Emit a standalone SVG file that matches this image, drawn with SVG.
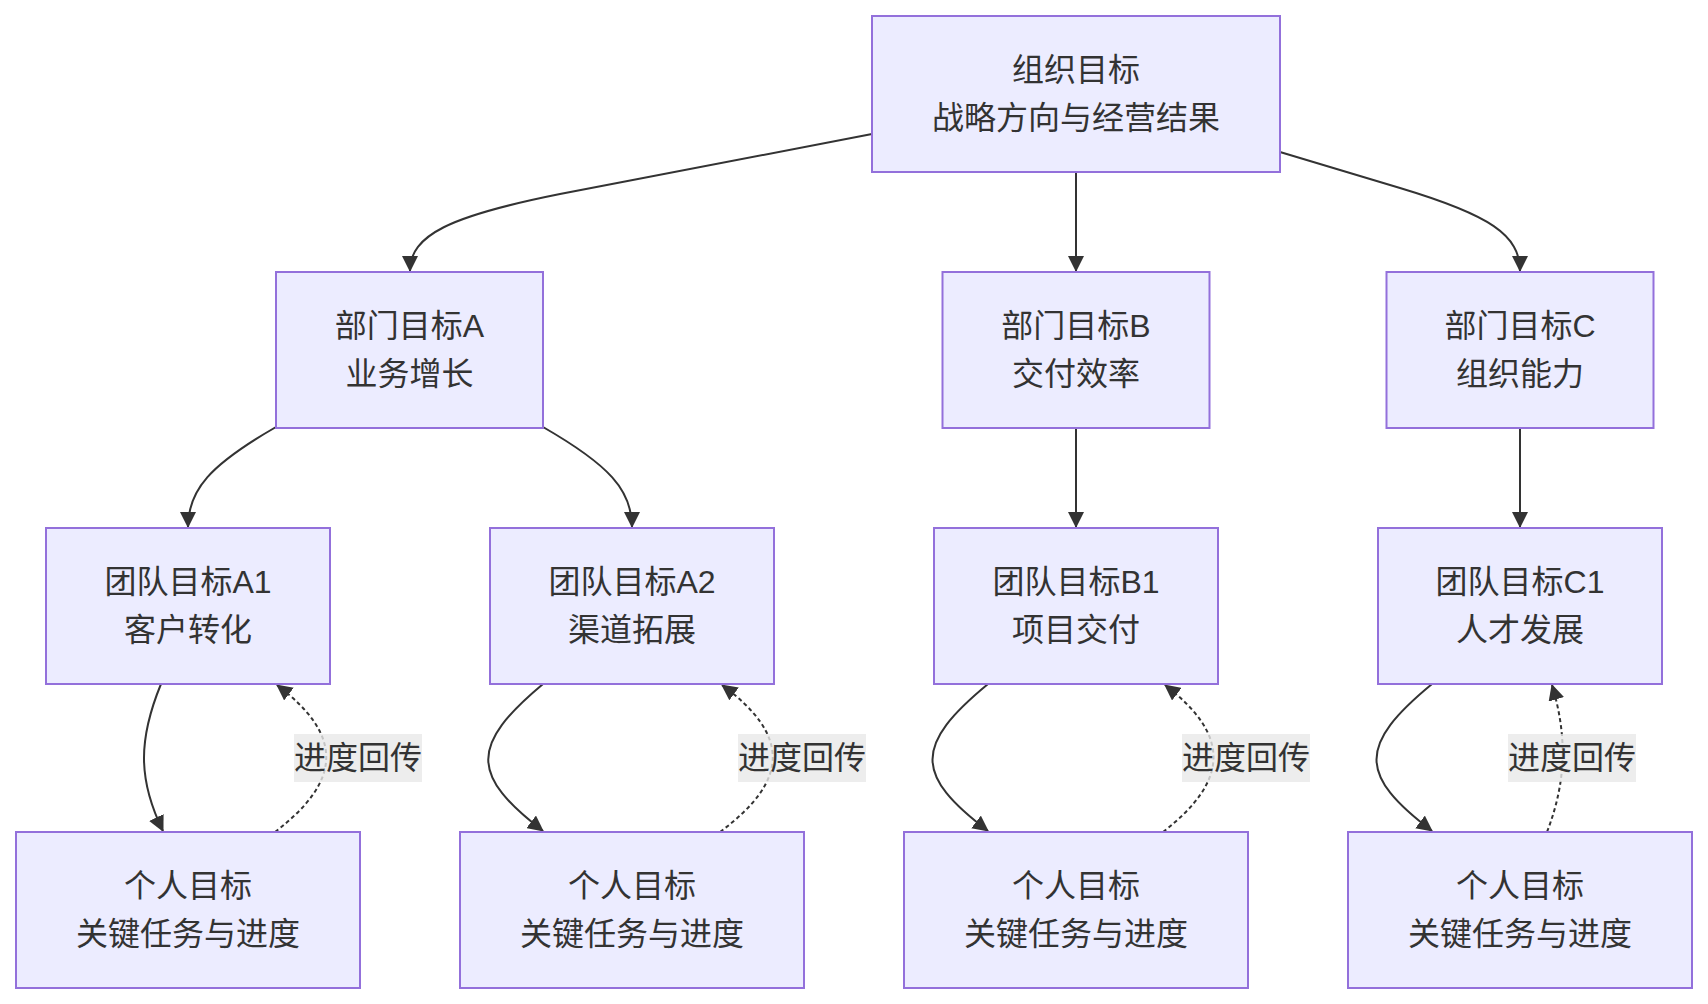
<svg xmlns="http://www.w3.org/2000/svg" width="1708" height="1004" viewBox="0 0 1708 1004">
<style>
.node rect{fill:#ECECFF;stroke:#9370DB;stroke-width:2}
text{font-family:"Liberation Sans","Noto Sans CJK SC",sans-serif;font-size:32px;fill:#333;text-anchor:middle;dominant-baseline:central}
.edge{fill:none;stroke:#333;stroke-width:2}
.dot{stroke-dasharray:4 3}
.lbl rect{fill:rgba(232,232,232,0.8)}
</style>
<defs>
<marker id="arr" markerUnits="userSpaceOnUse" markerWidth="16" markerHeight="16" viewBox="0 0 16 16" refX="15" refY="8" orient="auto">
<path d="M0,0 L16,8 L0,16 z" fill="#333"/>
</marker>
</defs>
<g id="connectors">
<path class="edge" d="M872,134 L560,194 C450,216 410,235 410,271" marker-end="url(#arr)"/>
<path class="edge" d="M1076,172 L1076,271" marker-end="url(#arr)"/>
<path class="edge" d="M1280,152 L1400,188 C1490,215 1520,235 1520,271" marker-end="url(#arr)"/>
<path class="edge" d="M276,427 C210,465 188,490 188,527" marker-end="url(#arr)"/>
<path class="edge" d="M543,427 C609,465 632,490 632,527" marker-end="url(#arr)"/>
<path class="edge" d="M1076,428 L1076,527" marker-end="url(#arr)"/>
<path class="edge" d="M1520,428 L1520,527" marker-end="url(#arr)"/>
<path class="edge" d="M161,684 C138,740 138,780 163,831" marker-end="url(#arr)"/>
<path class="edge" d="M543,684 C470,745 470,775 543,831" marker-end="url(#arr)"/>
<path class="edge" d="M988,684 C914,745 914,775 988,831" marker-end="url(#arr)"/>
<path class="edge" d="M1432,684 C1358,745 1358,775 1432,831" marker-end="url(#arr)"/>
<path class="edge dot" d="M275,832 C343,780 343,735 277,685" marker-end="url(#arr)"/>
<path class="edge dot" d="M720,832 C790,780 790,735 722,685" marker-end="url(#arr)"/>
<path class="edge dot" d="M1163,832 C1230,780 1230,735 1165,685" marker-end="url(#arr)"/>
<path class="edge dot" d="M1547,832 C1567,780 1567,735 1552,685" marker-end="url(#arr)"/>
<g class="lbl"><rect x="294" y="734" width="128" height="48"/><text x="358" y="758">进度回传</text></g>
<g class="lbl"><rect x="738" y="734" width="128" height="48"/><text x="802" y="758">进度回传</text></g>
<g class="lbl"><rect x="1182" y="734" width="128" height="48"/><text x="1246" y="758">进度回传</text></g>
<g class="lbl"><rect x="1508" y="734" width="128" height="48"/><text x="1572" y="758">进度回传</text></g>
</g>
<g id="org" class="node"><rect x="872" y="16" width="408" height="156"/><text x="1076" y="70">组织目标</text><text x="1076" y="118">战略方向与经营结果</text></g>
<g id="deptA" class="node"><rect x="276" y="272" width="267" height="156"/><text x="409.5" y="326">部门目标A</text><text x="409.5" y="374">业务增长</text></g>
<g id="deptB" class="node"><rect x="942.5" y="272" width="267" height="156"/><text x="1076" y="326">部门目标B</text><text x="1076" y="374">交付效率</text></g>
<g id="deptC" class="node"><rect x="1386.5" y="272" width="267" height="156"/><text x="1520" y="326">部门目标C</text><text x="1520" y="374">组织能力</text></g>
<g id="teamA1" class="node"><rect x="46" y="528" width="284" height="156"/><text x="188" y="582">团队目标A1</text><text x="188" y="630">客户转化</text></g>
<g id="teamA2" class="node"><rect x="490" y="528" width="284" height="156"/><text x="632" y="582">团队目标A2</text><text x="632" y="630">渠道拓展</text></g>
<g id="teamB1" class="node"><rect x="934" y="528" width="284" height="156"/><text x="1076" y="582">团队目标B1</text><text x="1076" y="630">项目交付</text></g>
<g id="teamC1" class="node"><rect x="1378" y="528" width="284" height="156"/><text x="1520" y="582">团队目标C1</text><text x="1520" y="630">人才发展</text></g>
<g id="personA1" class="node"><rect x="16" y="832" width="344" height="156"/><text x="188" y="886">个人目标</text><text x="188" y="934">关键任务与进度</text></g>
<g id="personA2" class="node"><rect x="460" y="832" width="344" height="156"/><text x="632" y="886">个人目标</text><text x="632" y="934">关键任务与进度</text></g>
<g id="personB1" class="node"><rect x="904" y="832" width="344" height="156"/><text x="1076" y="886">个人目标</text><text x="1076" y="934">关键任务与进度</text></g>
<g id="personC1" class="node"><rect x="1348" y="832" width="344" height="156"/><text x="1520" y="886">个人目标</text><text x="1520" y="934">关键任务与进度</text></g>
</svg>
